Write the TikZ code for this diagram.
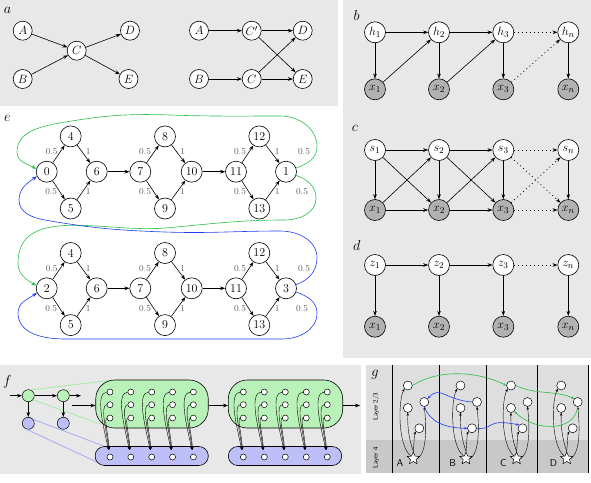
\documentclass[tikz,border=0pt]{standalone}
\usepackage{amsmath}
\usetikzlibrary{arrows.meta,shapes.geometric}
\definecolor{panelgray}{RGB}{232,232,232}
\definecolor{obsgray}{RGB}{178,178,178}
\definecolor{egreen}{RGB}{40,190,70}
\definecolor{eblue}{RGB}{30,60,240}
\definecolor{fgreen}{RGB}{185,242,185}
\definecolor{fblue}{RGB}{190,190,248}
\definecolor{lgreen}{RGB}{170,235,170}
\definecolor{lblue}{RGB}{175,175,245}
\definecolor{lay23}{RGB}{222,222,222}
\definecolor{lay4}{RGB}{200,200,200}
\definecolor{lblgray}{RGB}{90,90,90}
\begin{document}
\begin{tikzpicture}[x=1pt,y=1pt,
  >={Stealth[length=5pt,width=3.6pt]},
  edge/.style={line width=0.6pt,->},
  dotedge/.style={line width=0.7pt,->,dash pattern=on 1pt off 3pt},
  gn/.style={circle,draw,fill=white,inner sep=0pt,minimum size=19pt,line width=0.6pt,font=\fontsize{12.5}{13}\selectfont},
  bn/.style={circle,draw,fill=white,inner sep=0pt,minimum size=21pt,line width=0.6pt,font=\fontsize{12.5}{13}\selectfont},
  on/.style={bn,fill=obsgray},
  en/.style={circle,draw,fill=white,inner sep=0pt,minimum size=21pt,line width=0.6pt,font=\fontsize{12}{13}\selectfont},
  wl/.style={font=\fontsize{9}{10}\selectfont,text=lblgray,inner sep=0pt},
  plet/.style={font=\fontsize{15}{17}\selectfont,inner sep=0pt},
  fc/.style={circle,draw,inner sep=0pt,minimum size=12pt,line width=0.5pt},
  sc/.style={circle,draw,fill=white,inner sep=0pt,minimum size=6pt,line width=0.5pt},
  gc/.style={circle,draw,fill=white,inner sep=0pt,minimum size=9pt,line width=0.5pt},
  fine/.style={line width=0.4pt,-{Stealth[length=3pt,width=2.4pt]}},
  gstar/.style={star,star points=5,star point ratio=2.2,draw,fill=white,inner sep=0pt,minimum size=13pt,line width=0.5pt}
]
\useasboundingbox (0,0) rectangle (591,-482);

% ---------------- panel a ----------------
\fill[panelgray] (0,0) rectangle (338,-106);
\node[plet] (la) at (7.5,-10) {$a$};
\node[gn] (aA) at (22.7,-30.7) {$A$};
\node[gn] (aB) at (22.7,-79) {$B$};
\node[gn] (aC) at (76.7,-50.7) {$C$};
\node[gn] (aD) at (130,-30.7) {$D$};
\node[gn] (aE) at (128.5,-79) {$E$};
\draw[edge] (aA) -- (aC);
\draw[edge] (aB) -- (aC);
\draw[edge] (aC) -- (aD);
\draw[edge] (aC) -- (aE);
\node[gn] (rA) at (199,-30.7) {$A$};
\node[gn] (rCp) at (251.7,-30.7) {$C'$};
\node[gn] (rD) at (302.7,-30.7) {$D$};
\node[gn] (rB) at (199,-79) {$B$};
\node[gn] (rC) at (251.7,-79) {$C$};
\node[gn] (rE) at (302.7,-79) {$E$};
\draw[edge] (rA) -- (rCp);
\draw[edge] (rCp) -- (rD);
\draw[edge] (rCp) -- (rE);
\draw[edge] (rB) -- (rC);
\draw[edge] (rC) -- (rD);
\draw[edge] (rC) -- (rE);

% ---------------- panels b c d ----------------
\fill[panelgray] (343,0) rectangle (591,-358);
\node[plet] (lb) at (356.7,-15) {$b$};
\node[bn] (h1) at (375,-32.3) {$h_1$};
\node[bn] (h2) at (439,-32.3) {$h_2$};
\node[bn] (h3) at (503.3,-32.3) {$h_3$};
\node[bn] (hn) at (568.3,-32.3) {$h_n$};
\node[on] (bx1) at (375,-89.3) {$x_1$};
\node[on] (bx2) at (439,-89.3) {$x_2$};
\node[on] (bx3) at (503.3,-89.3) {$x_3$};
\node[on] (bxn) at (568.3,-89.3) {$x_n$};
\draw[edge] (h1) -- (h2);
\draw[edge] (h2) -- (h3);
\draw[dotedge] (h3) -- (hn);
\draw[edge] (h1) -- (bx1);
\draw[edge] (h2) -- (bx2);
\draw[edge] (h3) -- (bx3);
\draw[edge] (hn) -- (bxn);
\draw[edge] (bx1) -- (h2);
\draw[edge] (bx2) -- (h3);
\draw[dotedge] (bx3) -- (hn);

\node[plet] (lc) at (355,-128) {$c$};
\node[bn] (s1) at (375,-150) {$s_1$};
\node[bn] (s2) at (439,-150) {$s_2$};
\node[bn] (s3) at (503.3,-150) {$s_3$};
\node[bn] (sn) at (568.3,-150) {$s_n$};
\node[on] (cx1) at (375,-210) {$x_1$};
\node[on] (cx2) at (439,-210) {$x_2$};
\node[on] (cx3) at (503.3,-210) {$x_3$};
\node[on] (cxn) at (568.3,-210) {$x_n$};
\draw[edge] (s1) -- (s2);
\draw[edge] (s2) -- (s3);
\draw[dotedge] (s3) -- (sn);
\draw[edge] (s1) -- (cx1);
\draw[edge] (s2) -- (cx2);
\draw[edge] (s3) -- (cx3);
\draw[edge] (sn) -- (cxn);
\draw[edge] (s1) -- (cx2);
\draw[edge] (s2) -- (cx3);
\draw[dotedge] (s3) -- (cxn);
\draw[edge] (cx1) -- (s2);
\draw[edge] (cx2) -- (s3);
\draw[dotedge] (cx3) -- (sn);
\draw[edge] (cx1) -- (cx2);
\draw[edge] (cx2) -- (cx3);
\draw[dotedge] (cx3) -- (cxn);

\node[plet] (ld) at (356.7,-245) {$d$};
\node[bn] (z1) at (375,-265) {$z_1$};
\node[bn] (z2) at (439,-265) {$z_2$};
\node[bn] (z3) at (503.3,-265) {$z_3$};
\node[bn] (zn) at (568.3,-265) {$z_n$};
\node[on] (dx1) at (375,-326.7) {$x_1$};
\node[on] (dx2) at (439,-326.7) {$x_2$};
\node[on] (dx3) at (503.3,-326.7) {$x_3$};
\node[on] (dxn) at (568.3,-326.7) {$x_n$};
\draw[edge] (z1) -- (z2);
\draw[edge] (z2) -- (z3);
\draw[dotedge] (z3) -- (zn);
\draw[edge] (z1) -- (dx1);
\draw[edge] (z2) -- (dx2);
\draw[edge] (z3) -- (dx3);
\draw[edge] (zn) -- (dxn);

% ---------------- panel e ----------------
\node[plet] (le) at (7.3,-118.3) {$e$};
\foreach \g/\yc/\L/\R in {T/-171.7/0/1,B/-288.3/2/3} {
  \pgfmathsetmacro\yt{\yc+35.3}
  \pgfmathsetmacro\yb{\yc-36.8}
  \pgfmathsetmacro\lu{\yc+20}
  \pgfmathsetmacro\ld{\yc-20}
  \node[en] (\g L) at (46.7,\yc) {\L};
  \node[en] (\g 4) at (70.7,\yt) {4};
  \node[en] (\g 5) at (70.7,\yb) {5};
  \node[en] (\g 6) at (96.7,\yc) {6};
  \node[en] (\g 7) at (140.3,\yc) {7};
  \node[en] (\g 8) at (165,\yt) {8};
  \node[en] (\g 9) at (165,\yb) {9};
  \node[en] (\g 10) at (191.7,\yc) {10};
  \node[en] (\g 11) at (236,\yc) {11};
  \node[en] (\g 12) at (259.3,\yt) {12};
  \node[en] (\g 13) at (259.3,\yb) {13};
  \node[en] (\g R) at (286,\yc) {\R};
  \draw[edge] (\g L) -- (\g 4);
  \draw[edge] (\g L) -- (\g 5);
  \draw[edge] (\g 4) -- (\g 6);
  \draw[edge] (\g 5) -- (\g 6);
  \draw[edge] (\g 6) -- (\g 7);
  \draw[edge] (\g 7) -- (\g 8);
  \draw[edge] (\g 7) -- (\g 9);
  \draw[edge] (\g 8) -- (\g 10);
  \draw[edge] (\g 9) -- (\g 10);
  \draw[edge] (\g 10) -- (\g 11);
  \draw[edge] (\g 11) -- (\g 12);
  \draw[edge] (\g 11) -- (\g 13);
  \draw[edge] (\g 12) -- (\g R);
  \draw[edge] (\g 13) -- (\g R);
  \node[wl] at (51.7,\lu) {0.5};
  \node[wl] at (51.2,\ld) {0.5};
  \node[wl] at (88.3,\lu) {1};
  \node[wl] at (88.3,\ld) {1};
  \node[wl] at (145,\lu) {0.5};
  \node[wl] at (145,\ld) {0.5};
  \node[wl] at (182.7,\lu) {1};
  \node[wl] at (182.7,\ld) {1};
  \node[wl] at (240,\lu) {0.5};
  \node[wl] at (240,\ld) {0.5};
  \node[wl] at (277.3,\lu) {1};
  \node[wl] at (277.3,\ld) {1};
  \node[wl] at (304,\lu) {0.5};
  \node[wl] at (302,\ld) {0.5};
}
% loops
\draw[egreen,edge] (TR.20) to[out=20,in=-90] (317,-147) to[out=90,in=0] (280,-116)
  to[out=180,in=-2] (170,-115) to[out=178,in=10] (60,-123) to[out=190,in=90] (17,-152)
  to[out=-90,in=150] (TL.165);
\draw[egreen,edge] (TR.-20) to[out=-20,in=90] (316,-198) to[out=-90,in=0] (285,-220)
  to[out=180,in=5] (165,-228) to[out=185,in=90] (18,-263) to[out=-90,in=150] (BL.165);
\draw[eblue,edge] (BR.20) to[out=20,in=-90] (317,-258) to[out=90,in=0] (280,-231)
  to[out=180,in=-2] (165,-232) to[out=178,in=-10] (45,-220) to[out=170,in=-90] (19,-200)
  to[out=90,in=215] (TL.205);
\draw[eblue,edge] (BR.-20) to[out=-20,in=90] (317,-313) to[out=-90,in=0] (282,-339)
  to[out=180,in=0] (65,-339) to[out=180,in=-90] (18,-313) to[out=90,in=215] (BL.205);

% ---------------- panel f ----------------
\fill[panelgray] (0,-365) rectangle (361,-474);
\node[plet] (lf) at (7.3,-381.7) {$f$};
\node[fc,fill=fgreen] (c1) at (28.3,-395.7) {};
\node[fc,fill=fgreen] (c2) at (63.3,-395.7) {};
\node[fc,fill=fblue] (b1) at (28.3,-423.3) {};
\node[fc,fill=fblue] (b2) at (63.3,-423.3) {};
\coordinate (pg1) at (110,-380.5);
\coordinate (pg2) at (100,-424);
\coordinate (pb1) at (105,-446.5);
\coordinate (pb2) at (97,-462);
\draw[lgreen,line width=0.9pt] (c1.70) -- (pg1);
\draw[lgreen,line width=0.9pt] (c1.-40) -- (pg2);
\draw[lblue,line width=0.9pt] (b1.40) -- (pb1);
\draw[lblue,line width=0.9pt] (b1.-110) -- (pb2);
\node[draw,fill=fgreen,rounded corners=19pt,minimum width=112.5pt,minimum height=48pt,line width=0.6pt] (g1) at (152,-404) {};
\node[draw,fill=fgreen,rounded corners=19pt,minimum width=114.4pt,minimum height=48pt,line width=0.6pt] (g2) at (285.5,-404) {};
\node[draw,fill=fblue,rounded corners=9.5pt,minimum width=113.3pt,minimum height=19pt,line width=0.6pt] (u1) at (151.7,-456) {};
\node[draw,fill=fblue,rounded corners=9.5pt,minimum width=113.4pt,minimum height=19pt,line width=0.6pt] (u2) at (285,-456) {};
\coordinate (fin) at (10,-395.7);
\coordinate (fout) at (81,-395.7);
\coordinate (fa) at (71.7,-405.5);
\coordinate (gout) at (360,-405.5);
\draw[edge] (fin) -- (c1);
\draw[edge] (c1) -- (c2);
\draw[edge] (c2) -- (fout);
\draw[edge] (c1) -- (b1);
\draw[edge] (c2) -- (b2);
\draw[edge] (fa) -- (g1.west |- fa);
\draw[edge] (g1.east |- fa) -- (g2.west |- fa);
\draw[edge] (g2.east |- gout) -- (gout);
\foreach \k/\xs/\dx in {P/110/20.85,Q/243.3/21} {
  \foreach \i in {0,...,4} {
    \pgfmathsetmacro\cx{\xs+\dx*\i}
    \node[sc] (\k\i t) at (\cx,-392) {};
    \node[sc] (\k\i m) at (\cx,-404.7) {};
    \node[sc] (\k\i l) at (\cx,-418) {};
    \node[sc] (\k\i b) at (\cx,-457) {};
    \draw[fine,shorten >=4pt] (\k\i t.west) .. controls (\cx-15,-393) and (\cx-7,-425) .. (\k\i b.100);
    \draw[fine,shorten >=4pt] (\k\i m.west) .. controls (\cx-10,-406) and (\cx-4,-428) .. (\k\i b.100);
    \draw[fine,shorten >=4pt] (\k\i l.west) .. controls (\cx-6,-420) and (\cx-2,-432) .. (\k\i b.100);
  }
}

% ---------------- panel g ----------------
\fill[lay23] (366,-365) rectangle (588.3,-440);
\fill[lay4] (366,-440) rectangle (588.3,-473);
\foreach \vx in {392.3,439.3,486.7,537.3,588.3} {
  \draw[line width=0.6pt] (\vx,-365) -- (\vx,-473);
}
\node[plet] (lg) at (375,-375) {$g$};
\node[rotate=90,font=\sffamily\fontsize{6.5}{7}\selectfont] (l23) at (376,-406.7) {Layer 2/3};
\node[rotate=90,font=\sffamily\fontsize{6.5}{7}\selectfont] (l4) at (376,-458) {Layer 4};
\foreach \c/\sx in {A/413.3,B/466,C/516.5,D/566.7} {
  \node[font=\sffamily\fontsize{10}{11}\selectfont] (gl\c) at (\sx-13.3,-463.3) {\c};
  \node[gstar] (gs\c) at (\sx,-458.5) {};
  \node[gc] (gt\c) at (\sx-5.5,-385.5) {};
  \node[gc] (gm\c) at (\sx-5.5,-408) {};
  \node[gc] (gr\c) at (\sx+11,-402) {};
  \node[gc] (gw\c) at (\sx+6,-428.3) {};
  \draw[fine] (gs\c.north west) .. controls (\sx-16,-445) and (\sx-15,-400) .. (gt\c.south west);
  \draw[fine] (gs\c.north) .. controls (\sx-4,-440) and (\sx-6,-428) .. (gm\c.south);
  \draw[fine] (gs\c.north) .. controls (\sx+1,-440) and (\sx+1,-434) .. (gw\c.south west);
  \draw[fine] (gs\c.east) .. controls (\sx+14,-452) and (\sx+13,-425) .. (gr\c.south);
}
\draw[egreen,fine,line width=0.6pt] (gtA.east) .. controls (440,-368) and (480,-372) .. (gtC.west);
\draw[egreen,fine,line width=0.6pt] (gtC.east) .. controls (535,-395) and (555,-390) .. (grD.north west);
\draw[egreen,fine,line width=0.6pt] (grD.south) .. controls (575,-432) and (535,-432) .. (gmC.south east);
\draw[eblue,fine,line width=0.6pt] (grB.west) .. controls (445,-400) and (440,-385) .. (grA.north east);
\draw[eblue,fine,line width=0.6pt] (grA.south) .. controls (430,-422) and (445,-428) .. (gwB.west);
\draw[eblue,fine,line width=0.6pt] (gwB.east) .. controls (495,-430) and (485,-418) .. (gwC.north west);
\end{tikzpicture}
\end{document}
